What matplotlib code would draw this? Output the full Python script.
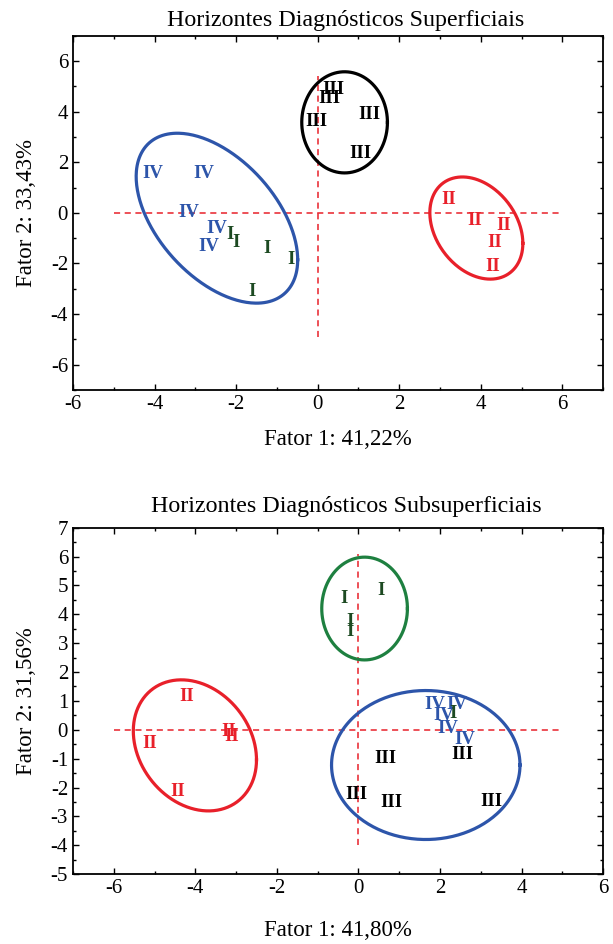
import numpy as np
import matplotlib
matplotlib.use("Agg")
import matplotlib.pyplot as plt
from matplotlib.ticker import MultipleLocator

plt.rcParams['font.family'] = ['Liberation Serif', 'DejaVu Serif']
plt.rcParams['axes.unicode_minus'] = False

# ---------------- cores por grupo ----------------
cor_grupo = {"I": "#1d4a22", "II": "#e8202a", "III": "#000000", "IV": "#2d55aa"}

# ---------------- Horizontes superficiais ----------------
sup_rotulos = ["IV", "IV", "IV", "IV", "IV",
               "I", "I", "I", "I", "I",
               "III", "III", "III", "III", "III",
               "II", "II", "II", "II", "II"]
sup_f1 = [-4.04, -2.80, -3.16, -2.47, -2.67,
          -2.14, -2.01, -1.23, -0.66, -1.61,
          0.38, 0.28, -0.03, 1.28, 1.05,
          3.22, 3.85, 4.55, 4.34, 4.28]
sup_f2 = [1.57, 1.57, 0.01, -0.60, -1.33,
          -0.87, -1.17, -1.40, -1.86, -3.11,
          4.86, 4.53, 3.61, 3.91, 2.33,
          0.54, -0.32, -0.51, -1.17, -2.12]

# elipses: centro, semi-amplitudes em x/y, correlacao, cor
sup_ell_cx = [-2.47, 0.66, 3.89]
sup_ell_cy = [-0.21, 3.58, -0.60]
sup_ell_rx = [1.98, 1.05, 1.14]
sup_ell_ry = [3.36, 2.00, 2.02]
sup_ell_rho = [-0.49, 0.0, -0.30]
sup_ell_cor = ["#2d55aa", "#000000", "#e8202a"]

# ---------------- Horizontes subsuperficiais ----------------
sub_rotulos = ["I", "I", "I", "I",
               "II", "II", "II", "II", "II",
               "IV", "IV", "IV", "IV", "IV", "I",
               "III", "III", "III", "III", "III"]
sub_f1 = [-0.35, 0.55, -0.21, -0.21,
          -4.20, -3.19, -3.11, -5.11, -4.44,
          1.88, 2.41, 2.08, 2.20, 2.61, 2.33,
          0.67, 2.55, -0.06, 0.80, 3.25]
sub_f2 = [4.56, 4.83, 3.75, 3.40,
          1.15, -0.07, -0.24, -0.47, -2.15,
          0.88, 0.88, 0.51, 0.05, -0.35, 0.57,
          -0.99, -0.87, -2.23, -2.53, -2.49]

sub_ell_cx = [0.15, -4.01, 1.65]
sub_ell_cy = [4.20, -0.54, -1.22]
sub_ell_rx = [1.05, 1.51, 2.31]
sub_ell_ry = [1.78, 2.27, 2.58]
sub_ell_rho = [0.0, -0.22, 0.0]
sub_ell_cor = ["#1e8040", "#e8202a", "#2d55aa"]


def desenhar_elipse(ax, cx, cy, rx, ry, rho, cor):
    t = np.linspace(0, 2 * np.pi, 300)
    fi = np.arccos(rho)
    ax.plot(cx + rx * np.cos(t), cy + ry * np.cos(t + fi), color=cor, lw=2.3)


def tracar_painel(ax, rot, f1, f2, ecx, ecy, erx, ery, erho, ecor,
                  hlin, vlin, titulo, xlab, ylab, pad_tit):
    ax.plot(hlin, [0, 0], color="#e8202a", lw=1.1, ls=(0, (4, 3)))
    ax.plot([0, 0], vlin, color="#e8202a", lw=1.1, ls=(0, (4, 3)))
    for i in range(len(ecx)):
        desenhar_elipse(ax, ecx[i], ecy[i], erx[i], ery[i], erho[i], ecor[i])
    for r, x, y in zip(rot, f1, f2):
        ax.text(x, y, r, color=cor_grupo[r], fontsize=13.5, fontweight="bold",
                ha="center", va="center")
    ax.set_title(titulo, fontsize=17.3, pad=pad_tit, x=0.515)
    ax.set_xlabel(xlab, fontsize=16.5)
    ax.set_ylabel(ylab, fontsize=16.5)
    ax.tick_params(which="both", direction="in", top=True, right=True,
                   labelsize=15, width=1.0)
    ax.tick_params(which="major", length=4)
    ax.tick_params(which="minor", length=2.5)
    for s in ax.spines.values():
        s.set_linewidth(1.3)


fig = plt.figure(figsize=(6.13, 9.44), dpi=100)

ax1 = fig.add_axes([0.119, 0.587, 0.865, 0.375])
tracar_painel(ax1, sup_rotulos, sup_f1, sup_f2, sup_ell_cx, sup_ell_cy,
              sup_ell_rx, sup_ell_ry, sup_ell_rho, sup_ell_cor,
              [-5, 6], [-4.9, 5.4],
              "Horizontes Diagnósticos Superficiais",
              "Fator 1: 41,22%", "Fator 2: 33,43%", 7)
ax1.set_xlim(-6, 7)
ax1.set_ylim(-7, 7)
ax1.xaxis.set_minor_locator(MultipleLocator(1))
ax1.yaxis.set_minor_locator(MultipleLocator(1))
ax1.set_xticks([-6, -4, -2, 0, 2, 4, 6])
ax1.set_yticks([-6, -4, -2, 0, 2, 4, 6])
ax1.xaxis.labelpad = 11
ax1.yaxis.labelpad = 10

ax2 = fig.add_axes([0.119, 0.074, 0.865, 0.367])
tracar_painel(ax2, sub_rotulos, sub_f1, sub_f2, sub_ell_cx, sub_ell_cy,
              sub_ell_rx, sub_ell_ry, sub_ell_rho, sub_ell_cor,
              [-6, 5], [-4, 6.1],
              "Horizontes Diagnósticos Subsuperficiais",
              "Fator 1: 41,80%", "Fator 2: 31,56%", 11)
ax2.set_xlim(-7, 6)
ax2.set_ylim(-5, 7)
ax2.xaxis.set_minor_locator(MultipleLocator(1))
ax2.set_xticks([-6, -4, -2, 0, 2, 4, 6])
ax2.yaxis.set_major_locator(MultipleLocator(1))
ax2.yaxis.set_minor_locator(MultipleLocator(0.5))
ax2.xaxis.labelpad = 16
ax2.yaxis.labelpad = 10

fig.savefig("out.png", dpi=100)
